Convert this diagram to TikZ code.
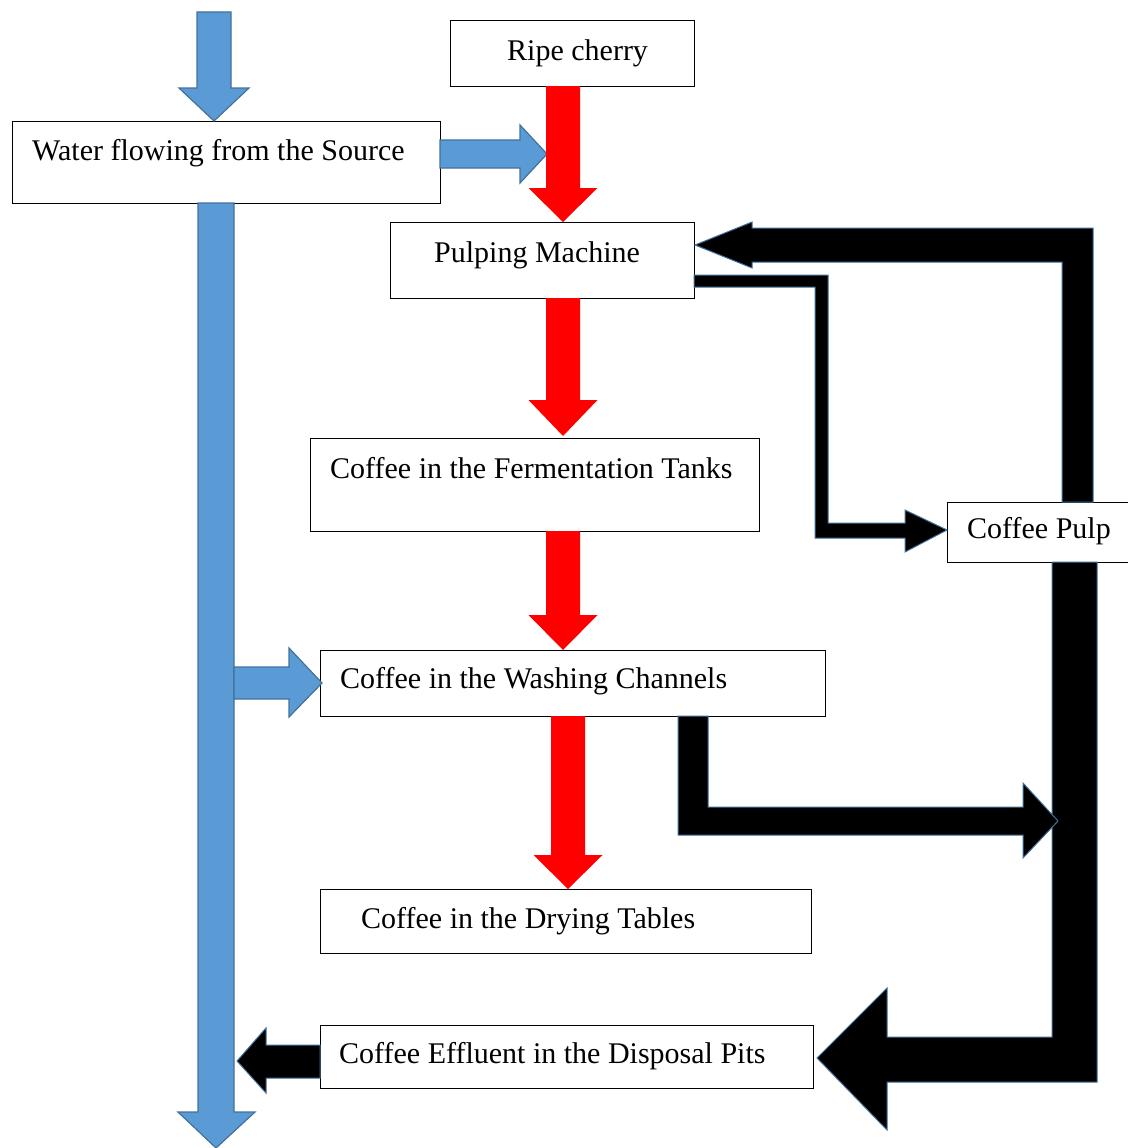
\documentclass[tikz,border=0pt]{standalone}
\usepackage{fontspec}
\setmainfont{Liberation Serif}
\definecolor{wblue}{HTML}{5B9BD5}
\definecolor{wedge}{HTML}{41719C}
\definecolor{cred}{HTML}{FF0000}
\tikzset{
  box/.style={draw=black, line width=1.2pt, fill=white, inner sep=0pt, anchor=north west},
  txt/.style={anchor=base west, inner sep=0pt, font=\fontsize{30}{36}\selectfont},
  bluearrow/.style={fill=wblue, draw=wedge, line width=1.2pt, line join=miter},
  redarrow/.style={fill=cred, draw=none},
  blackarrow/.style={fill=black, draw=wedge, line width=1pt, line join=miter},
}
\begin{document}
\begin{tikzpicture}[x=1pt,y=-1pt]
\useasboundingbox (0,0) rectangle (1127,1148);

% boxes
\node[box, minimum width=428pt, minimum height=82pt] (water) at (12,121) {};
\node[box, minimum width=244pt, minimum height=66pt] (ripe) at (450,20) {};
\node[box, minimum width=304pt, minimum height=76pt] (pulper) at (390,222) {};
\node[box, minimum width=449pt, minimum height=93pt] (ferm) at (310,438) {};
\node[box, minimum width=184pt, minimum height=60pt] (pulp) at (947,502) {};
\node[box, minimum width=505pt, minimum height=66pt] (wash) at (320,650) {};
\node[box, minimum width=491pt, minimum height=64pt] (dry) at (320,889) {};
\node[box, minimum width=493pt, minimum height=63pt] (eff) at (320,1025) {};

% texts
\node[txt] (twater) at (32,160) {Water flowing from the Source};
\node[txt] (tripe) at (507,60) {Ripe cherry};
\node[txt] (tpulper) at (434,262) {Pulping Machine};
\node[txt] (tferm) at (330,478) {Coffee in the Fermentation Tanks};
\node[txt] (tpulp) at (967,538) {Coffee Pulp};
\node[txt] (twash) at (340,688) {Coffee in the Washing Channels};
\node[txt] (tdry) at (361,928) {Coffee in the Drying Tables};
\node[txt] (teff) at (339,1063) {Coffee Effluent in the Disposal Pits};

% blue water arrows
\filldraw[bluearrow] (197,12) -- (231,12) -- (231,88) -- (249,88) -- (214,121) -- (179,88) -- (197,88) -- cycle;
\filldraw[bluearrow] (198,203) -- (234,203) -- (234,1112) -- (255,1112) -- (216,1148) -- (178,1112) -- (198,1112) -- cycle;
\filldraw[bluearrow] (440,140) -- (520,140) -- (520,125) -- (547,154) -- (520,183) -- (520,168) -- (440,168) -- cycle;
\filldraw[bluearrow] (234,667) -- (289,667) -- (289,648) -- (322,683) -- (289,717) -- (289,699) -- (234,699) -- cycle;

% red process arrows
\fill[redarrow] (546,86) -- (580,86) -- (580,188) -- (597.5,188) -- (563,222) -- (528.5,188) -- (546,188) -- cycle;
\fill[redarrow] (546,298) -- (580,298) -- (580,400) -- (597.5,400) -- (563,436) -- (528.5,400) -- (546,400) -- cycle;
\fill[redarrow] (546,531) -- (580,531) -- (580,615) -- (597.5,615) -- (563,650) -- (528.5,615) -- (546,615) -- cycle;
\fill[redarrow] (551,716) -- (585,716) -- (585,855) -- (602.5,855) -- (568,889) -- (533.5,855) -- (551,855) -- cycle;

% black arrows
\filldraw[blackarrow] (694,275) -- (828,275) -- (828,523) -- (905,523) -- (905,510) -- (947,530) -- (905,552) -- (905,538) -- (815,538) -- (815,287) -- (694,287) -- cycle;
\filldraw[blackarrow] (1093,502) -- (1093,228) -- (752,228) -- (752,222) -- (695,245) -- (752,268) -- (752,262) -- (1062,262) -- (1062,502) -- cycle;
\filldraw[blackarrow] (1052,562) -- (1097,562) -- (1097,1082) -- (887,1082) -- (887,1130) -- (817,1058) -- (887,988) -- (887,1037) -- (1052,1037) -- cycle;
\filldraw[blackarrow] (678,716) -- (708,716) -- (708,807) -- (1023,807) -- (1023,783) -- (1058,821) -- (1023,858) -- (1023,835) -- (678,835) -- cycle;
\filldraw[blackarrow] (320,1045) -- (320,1078) -- (266,1078) -- (266,1093) -- (237,1061) -- (266,1028) -- (266,1045) -- cycle;
\end{tikzpicture}
\end{document}
